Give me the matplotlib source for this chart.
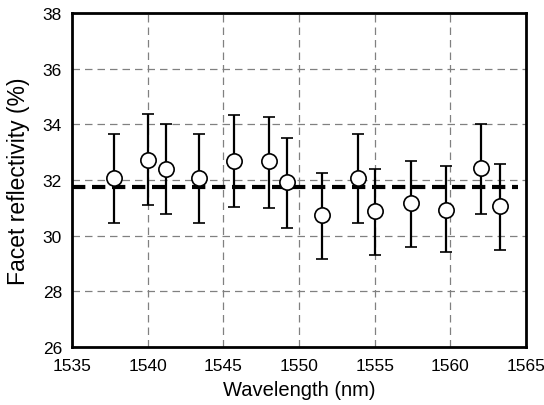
import matplotlib as mpl
mpl.use('Agg')
import matplotlib.pyplot as plt
import numpy as np

plt.rcParams['font.family'] = ['Liberation Sans', 'DejaVu Sans']

wavelength = [1537.8, 1540.05, 1541.2, 1543.4, 1545.7, 1548.05, 1549.2,
              1551.5, 1553.9, 1555.05, 1557.4, 1559.7, 1562.05, 1563.25]
reflectivity = [32.08, 32.73, 32.4, 32.08, 32.7, 32.67, 31.93,
                30.74, 32.08, 30.9, 31.16, 30.93, 32.42, 31.06]
err_up = [1.58, 1.64, 1.62, 1.58, 1.63, 1.6, 1.58,
          1.51, 1.58, 1.5, 1.51, 1.56, 1.59, 1.51]
err_down = [1.62, 1.62, 1.62, 1.62, 1.66, 1.68, 1.64,
            1.58, 1.62, 1.58, 1.58, 1.53, 1.64, 1.58]
mean_level = 31.75

fig = plt.figure(figsize=(5.44, 4.06), dpi=100)
ax = fig.add_axes([0.132, 0.143, 0.835, 0.822])

ax.plot([1535, 1564.5], [mean_level, mean_level], color='k', lw=3,
        ls=(0, (3.2, 1.6)), zorder=2)
ax.errorbar(wavelength, reflectivity, yerr=[err_down, err_up], fmt='o',
            ms=11, mfc='white', mec='k', mew=1.2, ecolor='k', elinewidth=1.6,
            capsize=4.5, capthick=1.6, zorder=3)

ax.set_xlim(1535, 1565)
ax.set_ylim(26, 38)
ax.set_xticks(np.arange(1535, 1566, 5))
ax.set_yticks(np.arange(26, 39, 2))
ax.grid(True, color='#808080', ls=(0, (6, 4)), lw=0.9)
ax.set_axisbelow(True)
for sp in ax.spines.values():
    sp.set_linewidth(2)
ax.tick_params(length=0, labelsize=12.5)
ax.tick_params(axis='x', pad=8)
ax.tick_params(axis='y', pad=7)
ax.set_xlabel('Wavelength (nm)', fontsize=14.5, labelpad=5)
ax.set_ylabel('Facet reflectivity (%)', fontsize=16.5, labelpad=9)

fig.savefig('out.png', dpi=100)
